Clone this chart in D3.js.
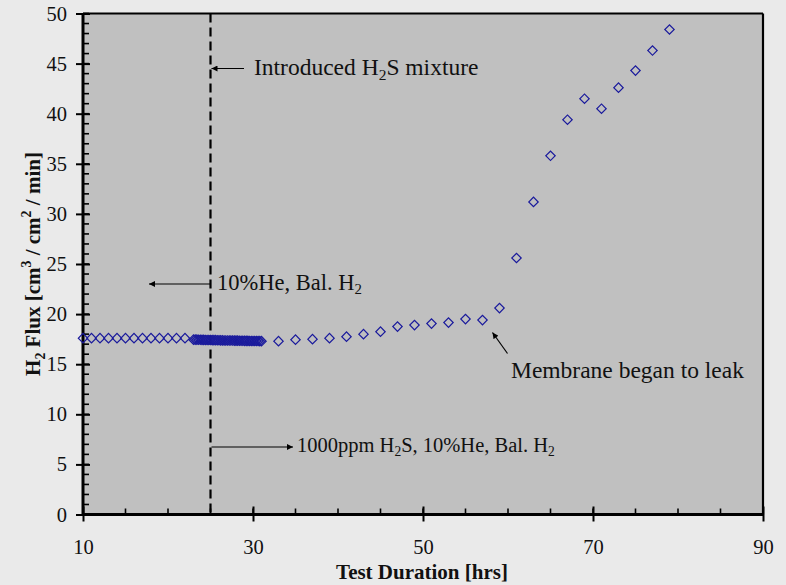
<!DOCTYPE html>
<html><head><meta charset="utf-8">
<script src="https://cdn.jsdelivr.net/npm/d3@7"></script>
<style>
html,body{margin:0;padding:0;background:#eaeaea;}
svg{display:block;}
text{font-family:"Liberation Serif","Times New Roman",serif;fill:#111;}
</style></head>
<body>
<svg id="chart" width="786" height="585"></svg>
<script>
// ---- data ----
const hoursEarly = [10,11,12,13,14,15,16,17,18,19,20,21,22];
const fluxEarly  = [17.6,17.6,17.6,17.6,17.6,17.6,17.6,17.6,17.6,17.6,17.6,17.6,17.6];
const hoursDense = [23.0,23.2,23.4,23.6,23.8,24.0,24.2,24.4,24.6,24.8,25.0,25.2,25.4,25.6,25.8,26.0,26.2,26.4,26.6,26.8,27.0,27.2,27.4,27.6,27.8,28.0,28.2,28.4,28.6,28.8,29.0,29.2,29.4,29.6,29.8,30.0,30.2,30.4,30.6,30.8,31.0];
const fluxDense  = [17.45,17.45,17.45,17.44,17.44,17.43,17.43,17.42,17.42,17.41,17.41,17.40,17.40,17.40,17.39,17.39,17.38,17.38,17.37,17.37,17.37,17.36,17.36,17.36,17.35,17.35,17.35,17.34,17.34,17.34,17.33,17.33,17.33,17.32,17.32,17.32,17.31,17.31,17.31,17.30,17.30];
const hoursLate  = [33,35,37,39,41,43,45,47,49,51,53,55,57,59,61,63,65,67,69,71,73,75,77,79];
const fluxLate   = [17.3,17.45,17.5,17.6,17.75,18.0,18.25,18.75,18.9,19.05,19.15,19.5,19.4,20.6,25.6,31.2,35.8,39.4,41.5,40.5,42.6,44.3,46.3,48.4];
const xTickLabels = [10,30,50,70,90];
const yTickLabels = [0,5,10,15,20,25,30,35,40,45,50];
const h2sIntroducedAt = 25;

// ---- layout ----
const svg = d3.select("#chart");
const L = 83, R = 763, T = 13.5, B = 514.5;
const x = d3.scaleLinear().domain([10,90]).range([L,R]);
const y = d3.scaleLinear().domain([0,50]).range([B,T]);

const defs = svg.append("defs");
defs.append("marker").attr("id","ah").attr("viewBox","0 0 10 10")
  .attr("refX",10).attr("refY",5).attr("markerWidth",7).attr("markerHeight",6)
  .attr("markerUnits","userSpaceOnUse").attr("orient","auto")
  .append("path").attr("d","M0,0 L10,5 L0,10 z").attr("fill","#000");

// plot area
svg.append("rect").attr("x",L).attr("y",T).attr("width",R-L).attr("height",B-T)
  .attr("fill","#c0c0c0");

// minor ticks (inside)
const gMinor = svg.append("g").attr("stroke","#000").attr("stroke-width",1.6);
d3.range(0,51,1).forEach(v=>{
  gMinor.append("line").attr("x1",L).attr("x2",L+6).attr("y1",y(v)).attr("y2",y(v));
});
d3.range(10,91,5).forEach(v=>{
  gMinor.append("line").attr("x1",x(v)).attr("x2",x(v)).attr("y1",B).attr("y2",B-6);
});

// y axis
const yAxis = d3.axisLeft(y).tickValues(yTickLabels).tickSize(7).tickPadding(9);
const gy = svg.append("g").attr("transform",`translate(${L},0)`).call(yAxis);
gy.select(".domain").remove();
gy.selectAll(".tick line").attr("stroke","#000").attr("stroke-width",2).attr("x2",-7).attr("x1",7);
gy.selectAll(".tick text").attr("font-size",20.5).attr("font-family","Liberation Serif").attr("fill","#111").attr("x",-16);

// x axis
const xAxis = d3.axisBottom(x).tickValues(xTickLabels).tickSize(7).tickPadding(20);
const gx = svg.append("g").attr("transform",`translate(0,${B})`).call(xAxis);
gx.select(".domain").remove();
gx.selectAll(".tick line").attr("stroke","#000").attr("stroke-width",2).attr("y1",-8).attr("y2",7);
gx.selectAll(".tick text").attr("font-size",20.5).attr("font-family","Liberation Serif").attr("fill","#111")
  .attr("y",39).attr("dy",0);

// frame
svg.append("line").attr("x1",L).attr("x2",R).attr("y1",T).attr("y2",T).attr("stroke","#000").attr("stroke-width",2.2);
svg.append("line").attr("x1",R).attr("x2",R).attr("y1",T).attr("y2",B).attr("stroke","#000").attr("stroke-width",2.2);
svg.append("line").attr("x1",L).attr("x2",L).attr("y1",T-0.5).attr("y2",B+1.5).attr("stroke","#000").attr("stroke-width",3);
svg.append("line").attr("x1",L-1).attr("x2",R+1).attr("y1",B).attr("y2",B).attr("stroke","#000").attr("stroke-width",3);

// dashed line at H2S introduction
svg.append("line").attr("x1",x(h2sIntroducedAt)).attr("x2",x(h2sIntroducedAt))
  .attr("y1",T).attr("y2",B).attr("stroke","#000").attr("stroke-width",2.2)
  .attr("stroke-dasharray","9,5");

// data markers
const pts = [];
hoursEarly.forEach((h,i)=>pts.push([h,fluxEarly[i]]));
hoursDense.forEach((h,i)=>pts.push([h,fluxDense[i]]));
hoursLate.forEach((h,i)=>pts.push([h,fluxLate[i]]));
const sym = d3.symbol().type(d3.symbolSquare).size(44);
svg.append("g").selectAll("path").data(pts).join("path")
  .attr("d",sym())
  .attr("transform",d=>`translate(${x(d[0])},${y(d[1])}) rotate(45)`)
  .attr("fill","none").attr("stroke","#1a1a9c").attr("stroke-width",1.2);

// annotations
function arrow(x1,y1,x2,y2){
  svg.append("line").attr("x1",x1).attr("y1",y1).attr("x2",x2).attr("y2",y2)
    .attr("stroke","#000").attr("stroke-width",1.2).attr("marker-end","url(#ah)");
}
arrow(244,68.5,x(h2sIntroducedAt)+1,68.5);
arrow(210,284,149,284);
arrow(x(h2sIntroducedAt)+1,447,293,447);
arrow(507.5,353.5,492.5,332.5);

// parts: plain strings or {t, sub:true} / {t, sup:true}
function label(tx,ty,size,parts){
  const t = svg.append("text").attr("x",tx).attr("y",ty).attr("font-size",size);
  let pending = 0;
  parts.forEach(p=>{
    if(typeof p === "string"){
      const s = t.append("tspan").text(p);
      if(pending) s.attr("dy",pending);
      pending = 0;
    } else {
      const off = p.sub ? size*0.22 : -size*0.42;
      t.append("tspan").text(p.t).attr("font-size",size*0.66).attr("dy",off - pending);
      pending = -off;
    }
  });
  return t;
}
label(254,75,23.5,["Introduced H",{t:"2",sub:true},"S mixture"]);
label(217,289.5,22.5,["10%He, Bal. H",{t:"2",sub:true}]);
label(297,451.5,20.5,["1000ppm H",{t:"2",sub:true},"S, 10%He, Bal. H",{t:"2",sub:true}]);
label(511,377.5,23.5,["Membrane began to leak"]);

// axis titles
svg.append("text").attr("x",(L+R)/2-1).attr("y",579).attr("text-anchor","middle")
  .attr("font-size",21).attr("font-weight","bold").text("Test Duration [hrs]");

const yt = svg.append("text").attr("transform","translate(40,264) rotate(-90)")
  .attr("text-anchor","middle").attr("font-size",21).attr("font-weight","bold");
const fs = 21;
yt.append("tspan").text("H");
yt.append("tspan").text("2").attr("font-size",fs*0.66).attr("dy",fs*0.22);
yt.append("tspan").text(" Flux [cm").attr("dy",-fs*0.22);
yt.append("tspan").text("3").attr("font-size",fs*0.66).attr("dy",-fs*0.42);
yt.append("tspan").text(" / cm").attr("dy",fs*0.42);
yt.append("tspan").text("2").attr("font-size",fs*0.66).attr("dy",-fs*0.42);
yt.append("tspan").text(" / min]").attr("dy",fs*0.42);
</script>
</body></html>
